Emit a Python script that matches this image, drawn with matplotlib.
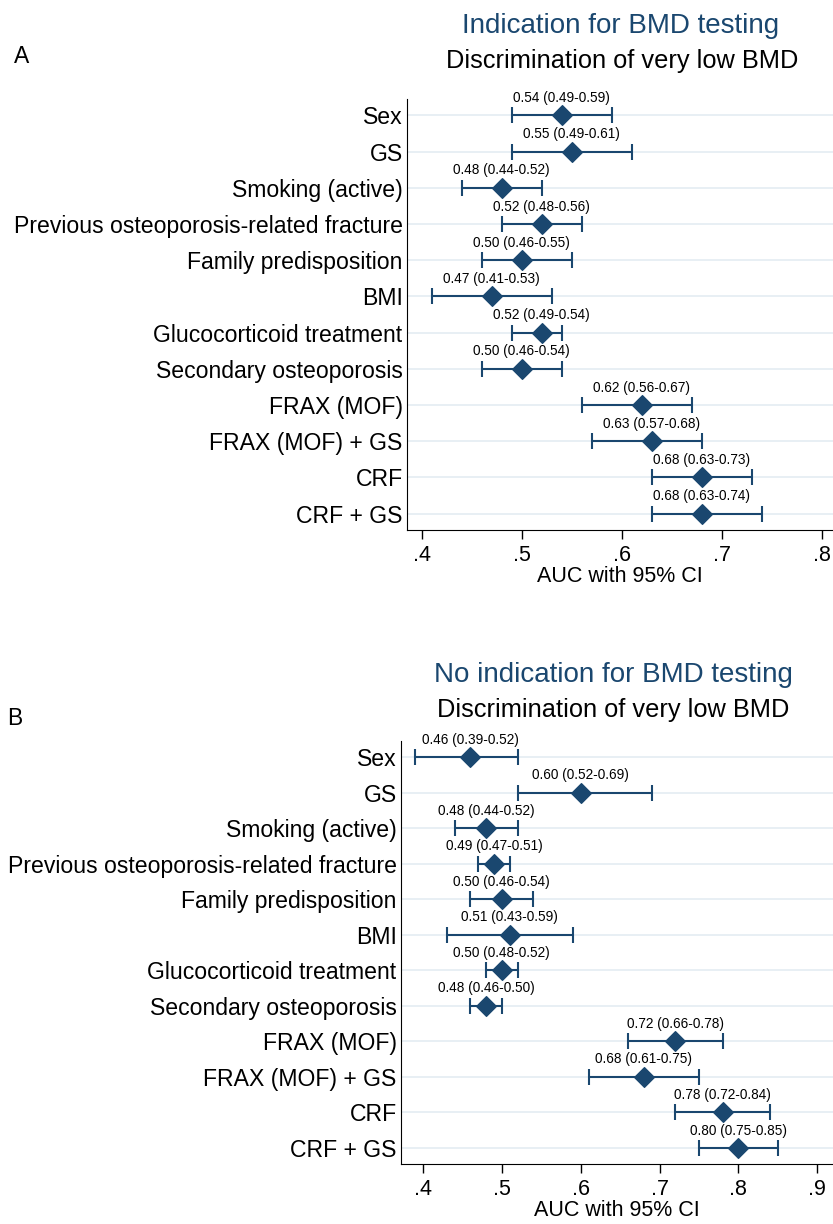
import numpy as np
import matplotlib.pyplot as plt

plt.rcParams['font.family'] = ['Liberation Sans', 'DejaVu Sans']

# Dados
labels = ["Sex", "GS", "Smoking (active)", "Previous osteoporosis-related fracture",
          "Family predisposition", "BMI", "Glucocorticoid treatment",
          "Secondary osteoporosis", "FRAX (MOF)", "FRAX (MOF) + GS", "CRF", "CRF + GS"]

auc_a = [0.54, 0.55, 0.48, 0.52, 0.50, 0.47, 0.52, 0.50, 0.62, 0.63, 0.68, 0.68]
lo_a = [0.49, 0.49, 0.44, 0.48, 0.46, 0.41, 0.49, 0.46, 0.56, 0.57, 0.63, 0.63]
hi_a = [0.59, 0.61, 0.52, 0.56, 0.55, 0.53, 0.54, 0.54, 0.67, 0.68, 0.73, 0.74]

auc_b = [0.46, 0.60, 0.48, 0.49, 0.50, 0.51, 0.50, 0.48, 0.72, 0.68, 0.78, 0.80]
lo_b = [0.39, 0.52, 0.44, 0.47, 0.46, 0.43, 0.48, 0.46, 0.66, 0.61, 0.72, 0.75]
hi_b = [0.52, 0.69, 0.52, 0.51, 0.54, 0.59, 0.52, 0.50, 0.78, 0.75, 0.84, 0.85]

ticks_a = [0.4, 0.5, 0.6, 0.7, 0.8]
ticks_b = [0.4, 0.5, 0.6, 0.7, 0.8, 0.9]

navy = '#1a476f'
grid_c = '#e6eef3'

W, H = 833, 1224


def forest(ax, auc, lo, hi, ticks, xlim, ylim):
    y = np.arange(len(labels))
    auc = np.array(auc)
    lo = np.array(lo)
    hi = np.array(hi)
    for yi in y:
        ax.axhline(yi, color=grid_c, lw=1.3, zorder=0)
    ax.errorbar(auc, y, xerr=[auc - lo, hi - auc], fmt='none', ecolor=navy,
                elinewidth=1.5, capsize=6, capthick=1.5, zorder=2)
    ax.scatter(auc, y, marker='D', s=100, color=navy, zorder=3)
    for a, l, h, yi in zip(auc, lo, hi, y):
        ax.annotate(f"{a:.2f} ({l:.2f}-{h:.2f})", (a, yi), xytext=(0, 7.5),
                    textcoords='offset points', ha='center', va='bottom',
                    fontsize=9.8)
    ax.set_yticks(y)
    ax.set_yticklabels(labels, fontsize=16.6)
    ax.tick_params(axis='y', length=0, pad=3)
    ax.set_xticks(ticks)
    ax.set_xticklabels([f"{t:.1f}".lstrip('0') for t in ticks], fontsize=15.5)
    ax.tick_params(axis='x', length=6.5, width=1, pad=4)
    ax.set_xlim(*xlim)
    ax.set_ylim(*ylim)
    ax.spines['top'].set_visible(False)
    ax.spines['right'].set_visible(False)
    ax.set_xlabel('AUC with 95% CI', fontsize=15.5, labelpad=0)


fig = plt.figure(figsize=(W / 100, H / 100), dpi=100)

axA = fig.add_axes([406.7 / W, 1 - 530 / H, (W - 406.7) / W, (530 - 99) / H])
forest(axA, auc_a, lo_a, hi_a, ticks_a, (0.385, 0.8113), (11.45, -0.45))

axB = fig.add_axes([400.7 / W, 1 - 1164 / H, (W - 400.7) / W, (1164 - 741) / H])
forest(axB, auc_b, lo_b, hi_b, ticks_b, (0.3717, 0.920), (11.45, -0.45))

# Titulos
fig.text(621 / W, 1 - 33 / H, 'Indication for BMD testing', ha='center',
         va='baseline', fontsize=20, color=navy)
fig.text(622 / W, 1 - 68 / H, 'Discrimination of very low BMD', ha='center',
         va='baseline', fontsize=18.3)
fig.text(613 / W, 1 - 682 / H, 'No indication for BMD testing', ha='center',
         va='baseline', fontsize=20, color=navy)
fig.text(613 / W, 1 - 717 / H, 'Discrimination of very low BMD', ha='center',
         va='baseline', fontsize=18.3)
fig.text(14 / W, 1 - 63 / H, 'A', ha='left', va='baseline', fontsize=16.5)
fig.text(7 / W, 1 - 725 / H, 'B', ha='left', va='baseline', fontsize=16.5)

plt.savefig('out.png', dpi=100)
